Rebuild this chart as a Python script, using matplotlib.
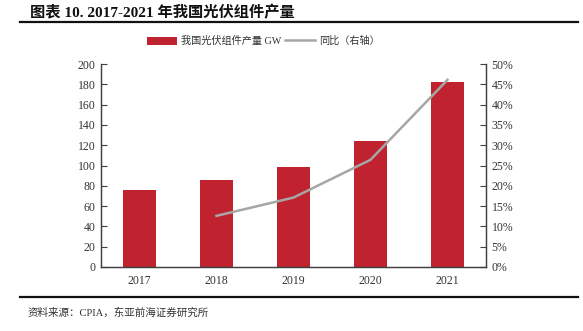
import matplotlib
matplotlib.use("Agg")
import matplotlib.pyplot as plt
from matplotlib.lines import Line2D
from matplotlib.patches import Patch

plt.rcParams['font.family'] = ['Liberation Serif', 'Noto Sans CJK SC', 'DejaVu Sans']

years = ["2017", "2018", "2019", "2020", "2021"]
output_gw = [75.6, 85.7, 98.6, 124.6, 182.0]
yoy_years = ["2018", "2019", "2020", "2021"]
yoy_pct = [12.6, 17.1, 26.4, 46.1]

BAR_RED = "#C0232F"
LINE_GREY = "#A6A6A6"
AXIS_GREY = "#404040"

fig = plt.figure(figsize=(5.83, 3.31), dpi=100)
ax = fig.add_axes([0.1732, 0.1934, 0.6604, 0.6132])

x = list(range(len(years)))
ax.bar(x, output_gw, width=0.42, color=BAR_RED, zorder=2)
ax.set_xlim(-0.5, len(years) - 0.5)
ax.set_ylim(0, 200)
ax.set_yticks(range(0, 201, 20))
ax.set_xticks(x)
ax.set_xticklabels(years)

ax2 = ax.twinx()
x_yoy = [years.index(y) for y in yoy_years]
ax2.plot(x_yoy, yoy_pct, color=LINE_GREY, linewidth=1.8, zorder=3)
ax2.set_ylim(0, 50)
ax2.set_yticks(range(0, 51, 5))
ax2.set_yticklabels(["{}%".format(v) for v in range(0, 51, 5)])

for a in (ax, ax2):
    a.spines["top"].set_visible(False)
    for s in ("left", "right", "bottom"):
        a.spines[s].set_color(AXIS_GREY)
        a.spines[s].set_linewidth(0.9)
    a.tick_params(axis="y", direction="in", length=4, color=AXIS_GREY,
                  labelsize=8.5, labelcolor="#333333", pad=4)
    a.tick_params(axis="x", length=0, labelsize=8.5, labelcolor="#333333", pad=6)

handles = [Patch(facecolor=BAR_RED, edgecolor="none"),
           Line2D([], [], color=LINE_GREY, linewidth=1.8)]
fig.legend(handles, ["我国光伏组件产量 GW", "同比（右轴）"],
           loc="center", bbox_to_anchor=(0.452, 0.876), ncol=2, frameon=False,
           fontsize=7.3, handlelength=3.0, handletextpad=0.4, columnspacing=0.3,
           handleheight=0.8, labelcolor="#333333")

fig.text(0.052, 0.962, "图表 10. 2017-2021 年我国光伏组件产量", fontsize=11,
         fontweight="bold", va="center", ha="left", color="#111111")
fig.add_artist(Line2D([0.035, 0.992], [0.933, 0.933], color="#111111",
                      linewidth=1.6, transform=fig.transFigure))
fig.add_artist(Line2D([0.035, 0.992], [0.103, 0.103], color="#111111",
                      linewidth=1.6, transform=fig.transFigure))
fig.text(0.048, 0.054, "资料来源：CPIA，东亚前海证券研究所", fontsize=7.6,
         va="center", ha="left", color="#333333")

fig.savefig("out.png", dpi=100)
